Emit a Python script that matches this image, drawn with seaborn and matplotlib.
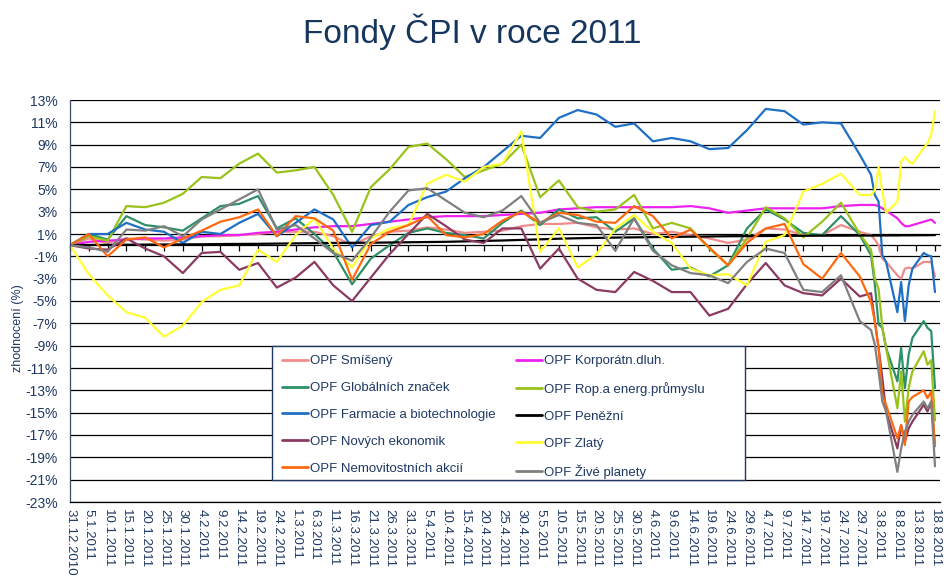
import matplotlib
matplotlib.use("Agg")
import matplotlib.pyplot as plt
from matplotlib.lines import Line2D
from matplotlib.patches import Rectangle
import seaborn as sns
import pandas as pd

sns.set_style("white")
plt.rcParams["font.family"] = ["Liberation Sans", "DejaVu Sans"]

NAVY = "#1F3864"

# sampled every 5 days until end of July, then every trading day in August
datum = [
    "31.12.2010", "5.1.2011", "10.1.2011", "15.1.2011", "20.1.2011", "25.1.2011",
    "30.1.2011", "4.2.2011", "9.2.2011", "14.2.2011", "19.2.2011", "24.2.2011",
    "1.3.2011", "6.3.2011", "11.3.2011", "16.3.2011", "21.3.2011", "26.3.2011",
    "31.3.2011", "5.4.2011", "10.4.2011", "15.4.2011", "20.4.2011", "25.4.2011",
    "30.4.2011", "5.5.2011", "10.5.2011", "15.5.2011", "20.5.2011", "25.5.2011",
    "30.5.2011", "4.6.2011", "9.6.2011", "14.6.2011", "19.6.2011", "24.6.2011",
    "29.6.2011", "4.7.2011", "9.7.2011", "14.7.2011", "19.7.2011", "24.7.2011",
    "29.7.2011",
    "1.8.2011", "2.8.2011", "3.8.2011", "4.8.2011", "5.8.2011", "8.8.2011",
    "9.8.2011", "10.8.2011", "11.8.2011", "12.8.2011", "15.8.2011", "16.8.2011",
    "17.8.2011", "18.8.2011",
]

smiseny = [0, 0.6, 0.2, 0.6, 0.5, 0.4, 0.5, 0.8, 0.8, 0.9, 1.0, 1.2, 1.2, 1.2, 0.8,
           0.0, 0.8, 1.2, 1.3, 1.6, 1.4, 1.1, 1.2, 1.3, 1.7, 1.9, 1.9, 2.0, 1.6, 1.4,
           1.5, 1.0, 1.2, 0.9, 0.6, 0.2, 0.5, 1.5, 1.4, 0.9, 0.9, 1.8, 1.2,
           0.9, 0.5, 0.0, -1.2, -1.5, -2.7, -3.0, -2.1, -2.0, -2.1, -1.5, -1.5, -1.5, -2.8]
korporatni = [0, 0.3, 0.4, 0.5, 0.6, 0.6, 0.7, 0.8, 0.9, 0.9, 1.1, 1.2, 1.4, 1.6, 1.7,
              1.7, 1.9, 2.1, 2.3, 2.5, 2.6, 2.6, 2.6, 2.7, 2.8, 2.9, 3.2, 3.3, 3.4, 3.4,
              3.4, 3.4, 3.4, 3.5, 3.3, 2.9, 3.1, 3.3, 3.3, 3.3, 3.3, 3.5, 3.6,
              3.6, 3.6, 3.5, 3.3, 3.1, 2.4, 2.0, 1.7, 1.7, 1.8, 2.1, 2.2, 2.3, 2.0]
globalni = [0, 1.0, 0.5, 2.6, 1.8, 1.6, 1.3, 2.4, 3.5, 3.7, 4.4, 1.5, 2.4, 1.0, -0.6,
            -3.5, -1.2, 0.0, 1.1, 1.5, 1.1, 0.9, 0.6, 2.0, 3.1, 1.8, 3.2, 2.4, 2.5, 1.2,
            2.4, -0.3, -2.2, -2.0, -2.8, -1.8, 1.5, 3.2, 2.3, 1.1, 0.9, 2.6, 0.9,
            -0.9, -3.5, -7.1, -7.4, -9.2, -12.2, -9.2, -12.8, -9.8, -8.3, -6.8, -7.4, -7.7, -12.8]
ropa = [0, 0.8, 0.4, 3.5, 3.4, 3.8, 4.6, 6.1, 6.0, 7.3, 8.2, 6.5, 6.7, 7.0, 4.5,
        1.2, 5.2, 6.8, 8.8, 9.1, 7.7, 6.1, 6.7, 7.3, 9.0, 4.3, 5.8, 3.4, 3.0, 3.2,
        4.5, 1.5, 2.0, 1.5, -0.3, -1.8, 0.6, 3.4, 2.4, 0.7, 2.1, 3.8, 1.0,
        -0.4, -3.0, -3.9, -7.4, -9.2, -14.6, -11.3, -15.8, -12.8, -11.3, -9.5, -10.7, -10.3, -15.7]
farmacie = [0, 1.0, 1.0, 2.0, 1.4, 1.2, 0.2, 1.2, 1.0, 2.0, 2.8, 0.8, 2.0, 3.2, 2.3,
            -0.2, 1.8, 2.1, 3.6, 4.3, 4.8, 6.0, 7.0, 8.4, 9.8, 9.6, 11.4, 12.1, 11.7, 10.6,
            10.9, 9.3, 9.6, 9.3, 8.6, 8.7, 10.3, 12.2, 12.0, 10.8, 11.0, 10.9, 8.1,
            6.3, 4.5, 3.9, -0.9, -1.5, -6.0, -3.3, -6.8, -3.6, -2.1, -0.7, -0.9, -1.0, -4.2]
penezni = [0, 0.02, 0.03, 0.04, 0.05, 0.06, 0.07, 0.08, 0.1, 0.11, 0.12, 0.14, 0.16, 0.18, 0.2,
           0.21, 0.22, 0.24, 0.26, 0.28, 0.3, 0.34, 0.38, 0.42, 0.47, 0.52, 0.58, 0.62, 0.65, 0.68,
           0.7, 0.72, 0.74, 0.76, 0.78, 0.8, 0.81, 0.82, 0.83, 0.84, 0.85, 0.85, 0.86,
           0.86, 0.86, 0.86, 0.87, 0.87, 0.87, 0.88, 0.88, 0.88, 0.88, 0.89, 0.89, 0.9, 0.9]
novych = [0, -0.3, -0.4, 0.6, -0.3, -1.0, -2.5, -0.7, -0.6, -2.2, -1.6, -3.8, -2.9, -1.5, -3.6,
          -5.0, -2.9, -0.8, 1.0, 2.8, 1.7, 0.5, 0.2, 1.5, 1.5, -2.1, -0.3, -3.0, -4.0, -4.2,
          -2.4, -3.2, -4.2, -4.2, -6.3, -5.7, -3.5, -1.6, -3.6, -4.3, -4.5, -3.0, -4.6,
          -4.3, -6.8, -9.2, -11.9, -14.9, -18.2, -16.1, -17.6, -16.4, -15.8, -14.3, -14.9, -14.0, -18.0]
zlaty = [0, -2.6, -4.5, -6.0, -6.5, -8.2, -7.2, -5.1, -4.0, -3.6, -0.4, -1.5, 0.9, 2.4, -0.3,
         -2.0, 0.6, 1.5, 1.8, 5.5, 6.3, 5.7, 7.0, 7.3, 10.2, -0.6, 1.5, -2.0, -0.8, 1.5,
         2.7, 1.2, 0.2, -2.1, -2.7, -2.6, -3.6, 0.3, 0.9, 4.8, 5.5, 6.4, 4.5,
         4.5, 4.9, 7.0, 4.8, 2.9, 3.9, 7.5, 7.9, 7.5, 7.3, 8.7, 9.1, 9.9, 12.0]
nemovitosti = [0, 1.0, -1.0, 0.5, 0.7, -0.2, 0.6, 1.3, 2.1, 2.5, 3.2, 0.8, 2.6, 2.4, 1.3,
               -3.1, 0.1, 1.2, 1.8, 2.6, 0.9, 0.7, 1.0, 2.2, 3.0, 2.0, 2.9, 2.7, 2.1, 2.0,
               3.5, 2.6, 0.6, 1.4, -0.2, -1.8, 0.2, 1.5, 1.9, -1.7, -3.0, -0.7, -2.8,
               -5.1, -6.8, -9.2, -13.4, -14.3, -17.3, -16.1, -17.9, -14.0, -13.6, -13.0, -13.7, -13.1, -18.0]
zive = [0, -0.2, -0.6, 1.4, 1.3, 1.7, 0.8, 2.3, 3.2, 4.1, 5.0, 1.4, 1.8, 0.6, -0.7,
        -1.4, 0.7, 3.0, 4.9, 5.1, 4.0, 2.9, 2.5, 3.1, 4.4, 2.0, 2.7, 2.0, 1.8, -0.5,
        2.4, -0.5, -1.8, -2.5, -2.7, -3.4, -1.5, -0.3, -0.7, -4.0, -4.2, -2.7, -6.8,
        -7.6, -8.9, -11.3, -14.0, -14.9, -20.3, -18.2, -16.7, -15.8, -15.2, -14.0, -14.6, -14.0, -19.8]

fondy = {
    "OPF Smíšený": (smiseny, "#F28C8C"),
    "OPF Korporátn.dluh.": (korporatni, "#EE22EE"),
    "OPF Globálních značek": (globalni, "#2E9066"),
    "OPF Rop.a energ.průmyslu": (ropa, "#99C21A"),
    "OPF Farmacie a biotechnologie": (farmacie, "#1F6FC5"),
    "OPF Peněžní": (penezni, "#000000"),
    "OPF Nových ekonomik": (novych, "#8B3A62"),
    "OPF Zlatý": (zlaty, "#FFFF33"),
    "OPF Nemovitostních akcií": (nemovitosti, "#FF6A10"),
    "OPF Živé planety": (zive, "#808080"),
}
legend_order = ["OPF Smíšený", "OPF Globálních značek", "OPF Farmacie a biotechnologie",
                "OPF Nových ekonomik", "OPF Nemovitostních akcií", "OPF Korporátn.dluh.",
                "OPF Rop.a energ.průmyslu", "OPF Peněžní", "OPF Zlatý", "OPF Živé planety"]

dates = pd.to_datetime(datum, format="%d.%m.%Y")
frames = [pd.DataFrame({"datum": dates, "zhodnoceni": vals, "fond": name})
          for name, (vals, _) in fondy.items()]
df = pd.concat(frames, ignore_index=True)
palette = {name: c for name, (_, c) in fondy.items()}

fig = plt.figure(figsize=(9.5, 5.84), dpi=100)
ax = fig.add_axes([70 / 950, 1 - 502 / 584, 870 / 950, 402 / 584])

sns.lineplot(data=df, x="datum", y="zhodnoceni", hue="fond", hue_order=list(fondy),
             palette=palette, linewidth=1.6, legend=False, ax=ax)

# axes
tick_dates = pd.date_range("2010-12-31", "2011-08-18", freq="5D")
ax.set_xlim(pd.Timestamp("2010-12-31"), pd.Timestamp("2011-08-19 08:00"))
ax.set_xticks(tick_dates)
ax.set_xticklabels([f"{d.day}.{d.month}.{d.year}" for d in tick_dates],
                   rotation=270, fontsize=9.5, color=NAVY)
ax.tick_params(axis="x", length=0, pad=5)

yt = list(range(-23, 14, 2))
ax.set_ylim(-23, 13)
ax.set_yticks(yt)
ax.set_yticklabels([f"{v}%" for v in yt], fontsize=10, color=NAVY)
ax.tick_params(axis="y", length=0, pad=9)
ax.yaxis.grid(True, color="black", linewidth=0.9)
ax.set_axisbelow(True)
ax.set_xlabel("")
ax.set_ylabel("")

for s in ["top", "right"]:
    ax.spines[s].set_visible(False)
ax.spines["left"].set_color("#3B4A66")
ax.spines["left"].set_linewidth(0.9)
ax.spines["bottom"].set_color("black")
ax.spines["bottom"].set_linewidth(0.9)

# category axis crossing at 0 with tick marks
sec = ax.secondary_xaxis(23 / 36)
sec.set_alignment("bottom")
sec.set_xticks(tick_dates)
sec.tick_params(axis="x", direction="out", length=4, width=0.9, color="black",
                labelbottom=False, labeltop=False)
sec.spines["bottom"].set_color("black")
sec.spines["bottom"].set_linewidth(0.9)

fig.text(0.497, 1 - 32 / 584, "Fondy ČPI v roce 2011", ha="center", va="center",
         fontsize=24, color="#17365D")
fig.text(0.019, 1 - 328 / 584, "zhodnocení (%)", rotation=90, ha="center", va="center",
         fontsize=9, color=NAVY)

# legend box
fig.add_artist(Rectangle((272 / 950, 1 - 480 / 584), 473 / 950, 134 / 584,
                         transform=fig.transFigure, facecolor="white",
                         edgecolor=NAVY, linewidth=1.0, zorder=2))
handles = [Line2D([], [], color=palette[n], linewidth=2) for n in legend_order]
fig.legend(handles, legend_order, loc="upper left",
           bbox_to_anchor=(282 / 950, 1 - 355 / 584), bbox_transform=fig.transFigure,
           ncol=2, frameon=False, borderpad=0, borderaxespad=0, fontsize=9.5,
           handlelength=2.0, handletextpad=0.15, labelspacing=1.11, columnspacing=1.5,
           labelcolor=NAVY)

fig.savefig("out.png", dpi=100)
